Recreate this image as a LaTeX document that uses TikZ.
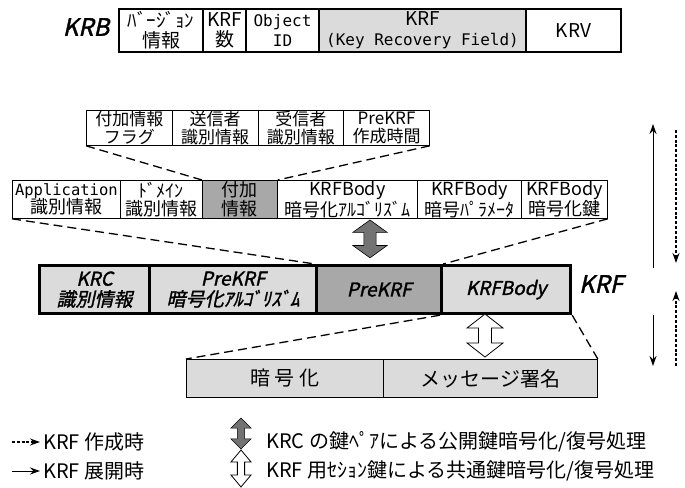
\documentclass[tikz,border=0pt]{standalone}
\usepackage{fontspec}
\setmainfont{Noto Sans CJK JP}
\newfontfamily\jpbi{Noto Sans CJK JP}[FakeSlant=0.22,FakeBold=1.5]
\newfontfamily\monof{DejaVu Sans Mono}
\newcommand\monotxt[1]{{\monof\fontsize{16}{20}\selectfont #1}}
\newcommand\monoapp[1]{{\monof\fontsize{15.5}{18.5}\selectfont #1}}
\usetikzlibrary{arrows.meta,patterns}
\definecolor{lightg}{gray}{0.86}
\definecolor{darkg}{gray}{0.66}
\tikzset{
  cellbase/.style={draw, inner sep=0pt, align=center, anchor=north west},
  krbcell/.style={cellbase, line width=2pt, font=\fontsize{19}{20}\selectfont},
  topcell/.style={cellbase, line width=0.8pt, font=\fontsize{17}{17.5}\selectfont},
  midcell/.style={cellbase, line width=0.8pt, font=\fontsize{18}{18.5}\selectfont},
  krfcell/.style={cellbase, line width=3.2pt, fill=lightg, font=\jpbi\fontsize{19}{20.5}\selectfont},
  botcell/.style={cellbase, line width=0.8pt, fill=lightg, font=\fontsize{20}{22}\selectfont},
  lbl/.style={inner sep=0pt, font=\jpbi\fontsize{24}{24}\selectfont},
  legtext/.style={inner sep=0pt, anchor=west, font=\fontsize{20}{20}\selectfont},
  conn/.style={line width=1.3pt, dash pattern=on 9pt off 5pt},
  solidarr/.style={line width=1pt, -{Stealth[length=10pt,width=7pt]}},
  dotarr/.style={line width=1.7pt, dash pattern=on 3pt off 1.8pt, -{Stealth[length=10pt,width=7pt]}},
  dblarr/.pic={\path[pic actions] (0,0) -- (18,14) -- (6.5,14) -- (6.5,29) -- (18,29) -- (0,43) -- (-18,29) -- (-6.5,29) -- (-6.5,14) -- (-18,14) -- cycle;},
  darkarr/.style={draw=black, line width=0.6pt, fill=black!55},
  whitearr/.style={draw=black, fill=white, line width=0.8pt}
}
\begin{document}
\begin{tikzpicture}[x=1pt,y=-1pt]
\fill[white] (0,0) rectangle (685,487);
\useasboundingbox (0,0) rectangle (685,487);

% KRB row
\node[lbl] (krblbl) at (86,27) {KRB};
\node[krbcell, minimum width=84, minimum height=43] (ver) at (118,8) {ﾊﾞｰｼﾞｮﾝ\\情報};
\node[krbcell, minimum width=43, minimum height=43] (num) at (202,8) {KRF\\数};
\node[krbcell, minimum width=73, minimum height=43] (oid) at (245,8) {\monotxt{Object}\\\monotxt{ID}};
\node[krbcell, minimum width=207, minimum height=43, fill=lightg] (krff) at (318,8) {KRF\\\monotxt{(Key Recovery Field)}};
\node[krbcell, minimum width=95, minimum height=43] (krv) at (525,8) {KRV};

% top detail row
\node[topcell, minimum width=85.75, minimum height=35] (flag) at (86,110) {付加情報\\フラグ};
\node[topcell, minimum width=85.75, minimum height=35] (snd) at (171.75,110) {送信者\\識別情報};
\node[topcell, minimum width=85.75, minimum height=35] (rcv) at (257.5,110) {受信者\\識別情報};
\node[topcell, minimum width=85.75, minimum height=35] (tim) at (343.25,110) {PreKRF\\作成時間};

% middle detail row
\node[midcell, minimum width=108, minimum height=38] (app) at (12,180) {\monoapp{Application}\\識別情報};
\node[midcell, minimum width=82, minimum height=38] (dom) at (120,180) {ﾄﾞﾒｲﾝ\\識別情報};
\node[midcell, minimum width=75, minimum height=38, fill=darkg] (fuka) at (202,180) {付加\\情報};
\node[midcell, minimum width=140, minimum height=38] (alg) at (277,180) {KRFBody\\暗号化ｱﾙｺﾞﾘｽﾞﾑ};
\node[midcell, minimum width=104, minimum height=38] (par) at (417,180) {KRFBody\\暗号ﾊﾟﾗﾒｰﾀ};
\node[midcell, minimum width=86, minimum height=38] (key) at (521,180) {KRFBody\\暗号化鍵};

% KRF row
\node[krfcell, minimum width=110, minimum height=48] (krc) at (38,264) {KRC\\識別情報};
\node[krfcell, minimum width=167, minimum height=48] (pkalg) at (148,264) {PreKRF\\暗号化ｱﾙｺﾞﾘｽﾞﾑ};
\node[krfcell, minimum width=125, minimum height=48, fill=darkg] (pre) at (315,264) {PreKRF};
\node[krfcell, minimum width=129, minimum height=48] (body) at (440,264) {KRFBody};
\node[lbl] (krflbl) at (601,284) {KRF};

% bottom row
\node[botcell, minimum width=197, minimum height=38] (enc) at (186,359) {暗 号 化};
\node[botcell, minimum width=214, minimum height=38] (sig) at (383,359) {メッセージ署名};

% dashed expansion connectors
\draw[conn] (flag.south west) -- (fuka.north west);
\draw[conn] (tim.south east) -- (fuka.north east);
\draw[conn] (app.south west) -- (pre.north west);
\draw[conn] (key.south east) -- (pre.north east);
\draw[conn] (body.south west) -- (enc.north west);
\draw[conn] (body.south east) -- (sig.north east);

% processing arrows
\pic[darkarr, xscale=0.95, yscale=0.88] at (370,220) {dblarr};
\pic[whitearr] at (485,314) {dblarr};

% right-side direction arrows
\coordinate (s1a) at (653,268); \coordinate (s1b) at (653,124);
\coordinate (d1a) at (676,130); \coordinate (d1b) at (676,263);
\coordinate (s2a) at (653,315); \coordinate (s2b) at (653,366);
\coordinate (d2a) at (676,366); \coordinate (d2b) at (676,291);
\draw[solidarr] (s1a) -- (s1b);
\draw[dotarr] (d1a) -- (d1b);
\draw[solidarr] (s2a) -- (s2b);
\draw[dotarr] (d2a) -- (d2b);

% legend
\coordinate (l1a) at (12,442); \coordinate (l1b) at (40,442);
\coordinate (l2a) at (12,471); \coordinate (l2b) at (40,471);
\draw[dotarr] (l1a) -- (l1b);
\draw[solidarr] (l2a) -- (l2b);
\node[legtext] (l1t) at (43,442) {KRF 作成時};
\node[legtext] (l2t) at (43,471) {KRF 展開時};
\pic[darkarr, xscale=0.56, yscale=0.72] at (241,418) {dblarr};
\pic[whitearr, xscale=0.56, yscale=0.86] at (241,450) {dblarr};
\node[legtext] (r1t) at (266,442) {KRC の鍵ﾍﾟｱによる公開鍵暗号化/復号処理};
\node[legtext] (r2t) at (266,471) {KRF 用ｾｼｮﾝ鍵による共通鍵暗号化/復号処理};
\end{tikzpicture}
\end{document}
